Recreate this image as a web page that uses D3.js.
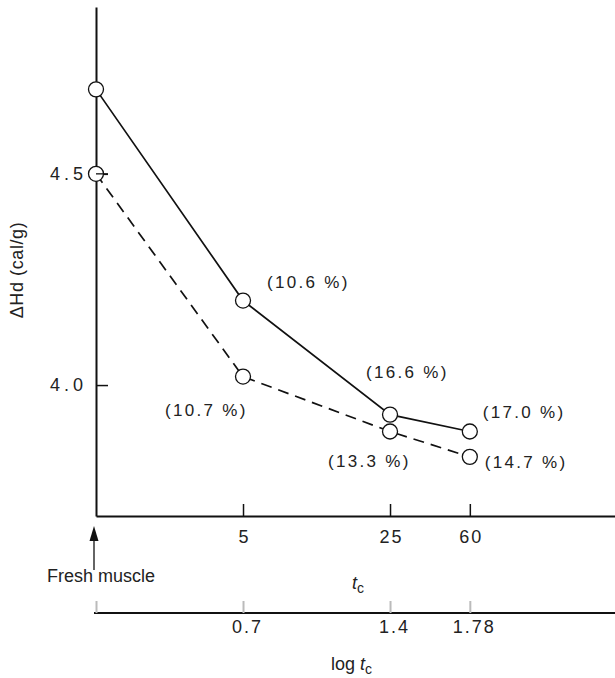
<!DOCTYPE html>
<html>
<head>
<meta charset="utf-8">
<script src="https://cdn.jsdelivr.net/npm/d3@7"></script>
<style>
  body { margin: 0; background: #fff; }
  svg text { font-family: "Liberation Sans", "DejaVu Sans", sans-serif; fill: #222; }
</style>
</head>
<body>
<div id="chart"></div>
<script>
// data
let logTc = [0, 0.7, 1.4, 1.78];
let tcLabels = ["", "5", "25", "60"];
let logLabels = ["", "0.7", "1.4", "1.78"];
let solidVals = [4.70, 4.20, 3.93, 3.89];
let dashedVals = [4.50, 4.02, 3.89, 3.83];
let solidPct = [null, "(10.6 %)", "(16.6 %)", "(17.0 %)"];
let dashedPct = [null, "(10.7 %)", "(13.3 %)", "(14.7 %)"];
let yTicks = [4.0, 4.5];

let W = 615, H = 678;

let svg = d3.select("#chart").append("svg")
    .attr("width", W)
    .attr("height", H);

// log tc is the linear coordinate, x axis runs to the right edge
let x = d3.scaleLinear().domain([0, 2.476]).range([96, 616]);
let y = d3.scaleLinear().domain([3.69, 4.895]).range([516, 7]);

let axisY = 516;
let axis2Y = 613;

// y axis
let gy = svg.append("g")
    .attr("transform", "translate(" + x(0) + ",0)")
    .call(d3.axisLeft(y).tickValues(yTicks).tickFormat(d3.format(".1f"))
        .tickSizeInner(-12).tickSizeOuter(0).tickPadding(9));
gy.select(".domain").attr("stroke", "#111").attr("stroke-width", 2);
gy.selectAll(".tick line").attr("stroke", "#111").attr("stroke-width", 1.5);
gy.selectAll(".tick text").style("font-size", "18px").attr("letter-spacing", "4px");

// tc axis
let gx = svg.append("g")
    .attr("transform", "translate(0," + axisY + ")")
    .call(d3.axisBottom(x).tickValues(logTc.slice(1))
        .tickFormat(function (d) { return tcLabels[logTc.indexOf(d)]; })
        .tickSizeInner(-12).tickSizeOuter(0).tickPadding(14));
gx.select(".domain").attr("stroke", "#111").attr("stroke-width", 2);
gx.selectAll(".tick line").attr("stroke", "#111").attr("stroke-width", 1.5);
gx.selectAll(".tick text").style("font-size", "18px").attr("letter-spacing", "2px")
    .attr("dx", "1px");

// log tc axis
let gx2 = svg.append("g")
    .attr("transform", "translate(0," + axis2Y + ")")
    .call(d3.axisBottom(x).tickValues(logTc)
        .tickFormat(function (d) { return logLabels[logTc.indexOf(d)]; })
        .tickSizeInner(-12).tickSizeOuter(0).tickPadding(7));
gx2.select(".domain").attr("stroke", "#111").attr("stroke-width", 1.8)
    .attr("d", "M" + (x(0) - 2) + ",0H" + W);
gx2.selectAll(".tick line").attr("stroke", "#bbb").attr("stroke-width", 2);
gx2.selectAll(".tick text").style("font-size", "18px").attr("letter-spacing", "2px")
    .attr("dx", "4px");

// y label
svg.append("text")
    .attr("transform", "translate(23,270) rotate(-90)")
    .attr("text-anchor", "middle")
    .style("font-size", "18px")
    .attr("letter-spacing", "0.6px")
    .text("\u0394Hd (cal/g)");

// tc label and log tc label
let tcText = svg.append("text")
    .attr("x", 352).attr("y", 589)
    .style("font-size", "18px");
tcText.append("tspan").style("font-style", "italic").text("t");
tcText.append("tspan").attr("dy", 4).style("font-size", "14px").text("c");

let logText = svg.append("text")
    .attr("x", 331).attr("y", 670)
    .style("font-size", "18px");
logText.append("tspan").text("log ");
logText.append("tspan").style("font-style", "italic").text("t");
logText.append("tspan").attr("dy", 4).style("font-size", "14px").text("c");

// fresh muscle arrow
let ax = x(0) - 2;
svg.append("line")
    .attr("x1", ax).attr("x2", ax)
    .attr("y1", 538).attr("y2", 570)
    .attr("stroke", "#111").attr("stroke-width", 1.3);
svg.append("path")
    .attr("d", "M" + ax + ",526L" + (ax - 4.5) + ",541L" + (ax + 4.5) + ",541Z")
    .attr("fill", "#111");
svg.append("text")
    .attr("x", 47).attr("y", 582)
    .style("font-size", "18px")
    .text("Fresh muscle");

// series
let line = d3.line()
    .x(function (d, i) { return x(logTc[i]); })
    .y(function (d) { return y(d); });

svg.append("path")
    .datum(solidVals)
    .attr("d", line)
    .attr("fill", "none")
    .attr("stroke", "#111")
    .attr("stroke-width", 1.7);

svg.append("path")
    .datum(dashedVals)
    .attr("d", line)
    .attr("fill", "none")
    .attr("stroke", "#111")
    .attr("stroke-width", 1.7)
    .attr("stroke-dasharray", "11,7");

function drawMarkers(vals) {
    svg.selectAll(null)
        .data(vals)
        .enter()
        .append("circle")
        .attr("cx", function (d, i) { return x(logTc[i]); })
        .attr("cy", function (d) { return y(d); })
        .attr("r", 7.5)
        .attr("fill", "#fff")
        .attr("stroke", "#111")
        .attr("stroke-width", 1.3);
}
drawMarkers(dashedVals);
drawMarkers(solidVals);

// tick at 4.5 shows through the marker
svg.append("line")
    .attr("x1", x(0)).attr("x2", x(0) + 12)
    .attr("y1", y(4.5)).attr("y2", y(4.5))
    .attr("stroke", "#111").attr("stroke-width", 1.3);

// percentage annotations, offsets from their points
let solidOffsets = [null, [24, -13], [-24, -37], [13, -14]];
let dashedOffsets = [null, [-78, 39], [-62, 35], [15, 11]];

function drawPct(vals, labels, offsets) {
    for (let i in vals) {
        if (labels[i] === null) continue;
        svg.append("text")
            .attr("x", x(logTc[i]) + offsets[i][0])
            .attr("y", y(vals[i]) + offsets[i][1])
            .style("font-size", "17px")
            .attr("letter-spacing", "2.3px")
            .text(labels[i]);
    }
}
drawPct(solidVals, solidPct, solidOffsets);
drawPct(dashedVals, dashedPct, dashedOffsets);
</script>
</body>
</html>
